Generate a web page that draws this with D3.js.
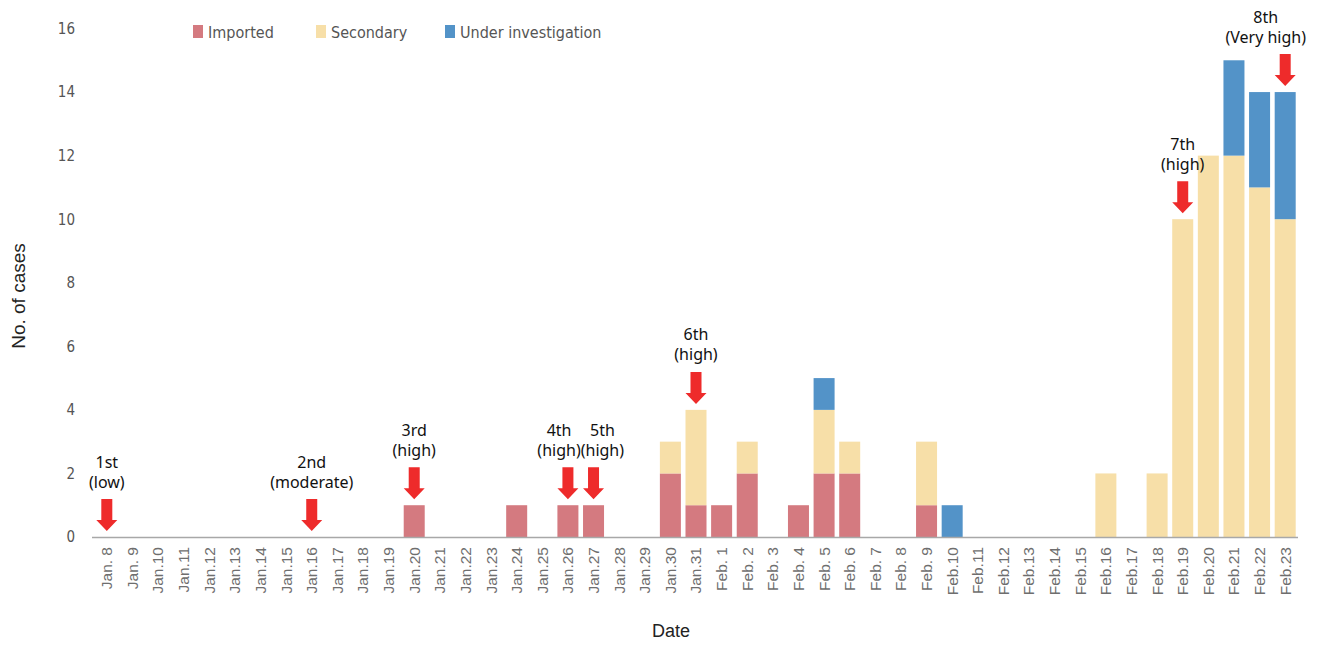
<!DOCTYPE html>
<html><head><meta charset="utf-8">
<script src="https://cdn.jsdelivr.net/npm/d3@7"></script>
<style>body{margin:0;background:#fff}</style>
</head><body>
<svg id="chart" width="1327" height="645"></svg>
<script>
const categories = ["Jan. 8","Jan. 9","Jan.10","Jan.11","Jan.12","Jan.13","Jan.14","Jan.15","Jan.16","Jan.17","Jan.18","Jan.19","Jan.20","Jan.21","Jan.22","Jan.23","Jan.24","Jan.25","Jan.26","Jan.27","Jan.28","Jan.29","Jan.30","Jan.31","Feb. 1","Feb. 2","Feb. 3","Feb. 4","Feb. 5","Feb. 6","Feb. 7","Feb. 8","Feb. 9","Feb.10","Feb.11","Feb.12","Feb.13","Feb.14","Feb.15","Feb.16","Feb.17","Feb.18","Feb.19","Feb.20","Feb.21","Feb.22","Feb.23"];
const imported =  [0,0,0,0,0,0,0,0,0,0,0,0,1,0,0,0,1,0,1,1,0,0,2,1,1,2,0,1,2,2,0,0,1,0,0,0,0,0,0,0,0,0,0,0,0,0,0];
const secondary = [0,0,0,0,0,0,0,0,0,0,0,0,0,0,0,0,0,0,0,0,0,0,1,3,0,1,0,0,2,1,0,0,2,0,0,0,0,0,0,2,0,2,10,12,12,11,10];
const underInvestigation = [0,0,0,0,0,0,0,0,0,0,0,0,0,0,0,0,0,0,0,0,0,0,0,0,0,0,0,0,1,0,0,0,0,1,0,0,0,0,0,0,0,0,0,0,3,3,4];
const seriesNames = ["Imported","Secondary","Under investigation"];
const yTicks = [0,2,4,6,8,10,12,14,16];
const annotations = [
  {date:"Jan. 8", lines:["1st","(low)"]},
  {date:"Jan.16", lines:["2nd","(moderate)"]},
  {date:"Jan.20", lines:["3rd","(high)"]},
  {date:"Jan.26", lines:["4th","(high)"]},
  {date:"Jan.27", lines:["5th","(high)"]},
  {date:"Jan.31", lines:["6th","(high)"]},
  {date:"Feb.19", lines:["7th","(high)"]},
  {date:"Feb.23", lines:["8th","(Very high)"]}
];

const colors = ["#d47a80","#f7dfa8","#5393c8"];
const svg = d3.select("#chart");
const x = d3.scaleBand().domain(categories).range([94,1298]).paddingInner(0.18).paddingOuter(0.09);
const y = d3.scaleLinear().domain([0,16]).range([537,28.5]);

const rows = categories.map((c,i)=>({date:c, "Imported":imported[i], "Secondary":secondary[i], "Under investigation":underInvestigation[i]}));
const stack = d3.stack().keys(seriesNames)(rows);

svg.append("g").selectAll("g").data(stack).join("g")
  .attr("fill",(d,i)=>colors[i])
  .selectAll("rect").data(d=>d.filter(p=>p[1]-p[0]>0)).join("rect")
  .attr("x",d=>x(d.data.date)).attr("width",x.bandwidth())
  .attr("y",d=>y(d[1])).attr("height",d=>y(d[0])-y(d[1]));

// x axis
const xAxis = svg.append("g").attr("transform",`translate(0,${y(0)})`)
  .call(d3.axisBottom(x).tickSize(0).tickSizeOuter(0));
xAxis.select(".domain").attr("stroke","#a8a8a8").attr("stroke-width",1.5).attr("d","M92,0.5H1298");
xAxis.selectAll("text").attr("transform","rotate(-90)").attr("text-anchor","end")
  .attr("x",-10).attr("y",0).attr("dy","0.35em")
  .style("font-family","'Liberation Sans', Arial, sans-serif").style("font-size","15.5px").attr("fill","#6e6e6e");

// y axis
const yAxis = svg.append("g").attr("transform","translate(75,0)")
  .call(d3.axisLeft(y).tickValues(yTicks).tickSize(0));
yAxis.select(".domain").remove();
yAxis.selectAll("text").attr("x",0).style("font-family","'DejaVu Sans Condensed','Roboto',sans-serif").style("font-size","15px").attr("fill","#555");

// axis titles
svg.append("text").attr("transform","translate(18,296) rotate(-90)").attr("text-anchor","middle").attr("dy","0.35em")
  .style("font-family","'Liberation Sans', Arial, sans-serif").style("font-size","19px").attr("fill","#222").text("No. of cases");
svg.append("text").attr("x",671).attr("y",637).attr("text-anchor","middle")
  .style("font-family","'Liberation Sans', Arial, sans-serif").style("font-size","18px").attr("fill","#222").text("Date");

// legend
const legendX = [193,316,445];
const lg = svg.append("g").selectAll("g").data(seriesNames).join("g")
  .attr("transform",(d,i)=>`translate(${legendX[i]},25)`);
lg.append("rect").attr("width",10).attr("height",13).attr("fill",(d,i)=>colors[i]);
lg.append("text").attr("x",15).attr("y",7).attr("dy","0.35em")
  .style("font-family","'DejaVu Sans Condensed','Roboto',sans-serif").style("font-size","16px").attr("fill","#555").text(d=>d);

// annotations
const totals = categories.map((c,i)=>imported[i]+secondary[i]+underInvestigation[i]);
const ag = svg.append("g");
const font = "'Noto Sans','Open Sans',sans-serif";
const annItems = annotations.map(a=>{
  const i = categories.indexOf(a.date);
  const cx = x(a.date)+x.bandwidth()/2;
  const tip = y(totals[i]) - 6;
  return {a, cx, tip, tx: cx};
});
annItems.forEach(it=>{
  const t = ag.append("text").style("font-family",font).style("font-size","16px").text(it.a.lines[1]);
  it.w = t.node().getComputedTextLength(); t.remove();
  const maxRight = 1306;
  if (it.tx + it.w/2 > maxRight) it.tx = maxRight - it.w/2;
});
for (let k=1;k<annItems.length;k++){
  const p=annItems[k-1], q=annItems[k];
  const need = (p.w+q.w)/2 - (q.tx-p.tx);
  if (need>0 && Math.abs(q.tip-p.tip)<40){ p.tx -= need/2; q.tx += need/2; }
}
annItems.forEach(it=>{
  const top = it.tip - 32;
  ag.append("path").attr("fill","#ee2b2b")
    .attr("d",`M${it.cx-5.5},${top}H${it.cx+5.5}V${top+21}H${it.cx+10.5}L${it.cx},${it.tip}L${it.cx-10.5},${top+21}H${it.cx-5.5}Z`);
  const n = it.a.lines.length;
  it.a.lines.forEach((ln,j)=>{
    ag.append("text").attr("x",it.tx).attr("y",top-17-(n-1-j)*20).attr("dy","0.35em").attr("text-anchor","middle")
      .style("font-family",font).style("font-size","16px").attr("fill","#111").text(ln);
  });
});
</script>
</body></html>
